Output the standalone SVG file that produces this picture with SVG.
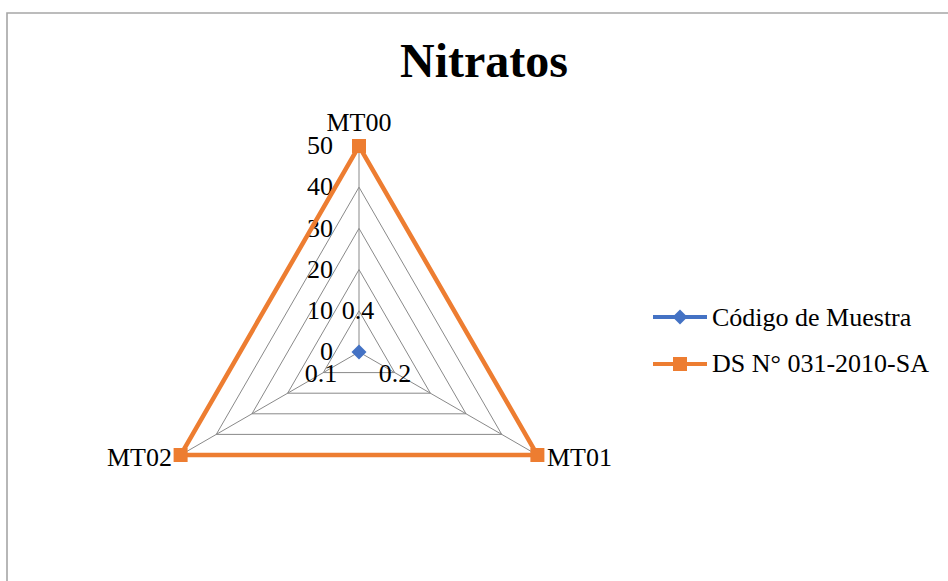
<svg xmlns="http://www.w3.org/2000/svg" width="948" height="581" viewBox="0 0 948 581">
  <style>
    text { font-family: "Liberation Serif", "Times New Roman", serif; fill: #000000; }
    .lbl { font-size: 26px; }
    .ax { font-size: 26px; text-anchor: end; }
    .mid { text-anchor: middle; }
    .grid { fill: none; stroke: #898989; stroke-width: 1; }
    .ds { fill: none; stroke: #ED7D31; stroke-width: 4.5; stroke-linejoin: round; }
    .dsm { fill: #ED7D31; }
    .cm { fill: #4472C4; }
  </style>
  <defs>
    <rect id="sq" x="-7" y="-7" width="14" height="14" class="dsm"/>
    <polygon id="dia" points="0,-7.5 7.5,0 0,7.5 -7.5,0" class="cm"/>
  </defs>
  <rect x="0" y="0" width="948" height="581" fill="#ffffff"/>
  <g id="frame">
    <path d="M7,581 V13 H948" fill="none" stroke="#a6a6a6" stroke-width="1.6"/>
  </g>
  <g id="title">
    <text x="484" y="77" class="mid" font-size="48" font-weight="bold">Nitratos</text>
  </g>
  <g id="grid">
    <polygon class="grid" points="359,310.8 394.68,372.6 323.32,372.6"/>
    <polygon class="grid" points="359,269.6 430.36,393.2 287.64,393.2"/>
    <polygon class="grid" points="359,228.4 466.04,413.8 251.96,413.8"/>
    <polygon class="grid" points="359,187.2 501.72,434.4 216.28,434.4"/>
    <polygon class="grid" points="359,146 537.4,455 180.6,455"/>
    <path class="grid" d="M359,352 V146 M359,352 L537.4,455 M359,352 L180.6,455"/>
  </g>
  <g id="axis-labels">
    <text class="ax" x="333" y="154">50</text>
    <text class="ax" x="333" y="195">40</text>
    <text class="ax" x="333" y="237">30</text>
    <text class="ax" x="333" y="278">20</text>
    <text class="ax" x="333" y="319">10</text>
    <text class="ax" x="333" y="360">0</text>
  </g>
  <g id="category-labels">
    <text class="lbl mid" x="359" y="131">MT00</text>
    <text class="lbl" x="547" y="466">MT01</text>
    <text class="lbl" x="172" y="466" text-anchor="end">MT02</text>
  </g>
  <g id="series-ds">
    <polygon class="ds" points="359,146 537.4,455 180.6,455"/>
    <use href="#sq" x="359" y="146"/>
    <use href="#sq" x="537.4" y="455"/>
    <use href="#sq" x="180.6" y="455"/>
  </g>
  <g id="series-codigo">
    <use href="#dia" x="359" y="352"/>
    <text class="lbl mid" x="358" y="319">0.4</text>
    <text class="lbl mid" x="321" y="382">0.1</text>
    <text class="lbl mid" x="395" y="382">0.2</text>
  </g>
  <g id="legend">
    <line x1="653" y1="317" x2="707" y2="317" stroke="#4472C4" stroke-width="4"/>
    <use href="#dia" x="680" y="317"/>
    <text class="lbl" x="712" y="326">Código de Muestra</text>
    <line x1="653" y1="364" x2="707" y2="364" stroke="#ED7D31" stroke-width="4"/>
    <use href="#sq" x="680" y="364"/>
    <text class="lbl" x="712" y="372">DS N° 031-2010-SA</text>
  </g>
</svg>
